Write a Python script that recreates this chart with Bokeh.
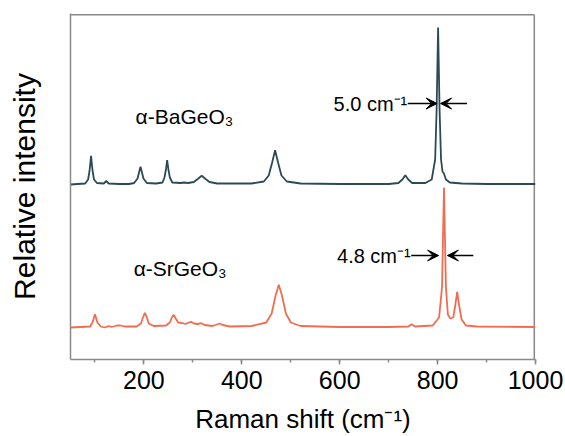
from bokeh.plotting import figure
from bokeh.models import Range1d, SingleIntervalTicker, FixedTicker, Label, Arrow, VeeHead
from bokeh.embed import file_html
from bokeh.resources import INLINE

# ---- data (Raman shift cm-1, relative intensity) ----
ba_shift = [50, 80, 86, 89, 92, 95, 98, 104, 118, 123, 128, 150, 170, 180, 187, 190, 193, 196, 199, 206,
            225, 238, 242, 245, 247.5, 250, 253, 258, 275, 282, 290, 302, 310, 318, 326, 334, 350, 420,
            445, 455, 462, 468, 474, 481, 492, 520, 600, 700, 720, 728, 734, 740, 748, 775, 788, 795,
            798, 801, 804, 807, 810, 813, 817, 825, 850, 900, 1000]
ba_int = [0, 1, 5, 14, 28.6, 14, 5, 1.5, 1, 3.5, 1, 0.5, 0.5, 1.5, 6, 12, 17.7, 12, 6, 1.5,
          1, 2, 7, 15, 24.3, 15, 7, 2, 1.5, 2, 1.5, 2.5, 5.5, 8.7, 5.5, 2.5, 1, 1,
          3, 9, 22, 34.3, 22, 9, 3, 1, 0.5, 0.5, 1.5, 5, 9.3, 5, 1.5, 1.5, 5, 25,
          75, 157, 75, 25, 13, 11, 5, 2, 1, 0.5, 0.5]

sr_shift = [50, 90, 95, 98, 100, 102, 105, 112, 120, 128, 134, 145, 152, 160, 185, 194, 198, 202, 206,
            210, 220, 245, 253, 257, 261, 265, 270, 278, 285, 292, 296.5, 302, 310, 317, 324, 340,
            349, 355, 361, 375, 420, 450, 461, 469, 475.5, 482, 490, 500, 520, 600, 700, 740, 747,
            754, 790, 803, 809, 811, 813, 815, 817, 821, 826, 832, 836, 840, 844, 849, 858, 880, 1000]
sr_int = [0, 1, 5, 10, 13.3, 10, 5, 1, 0, 1.5, 0.5, 2, 2, 1, 1, 4, 10, 14.7, 10,
          4, 1.5, 2, 5, 10, 12.7, 9, 5, 4.5, 3.5, 5, 5.7, 4, 3.5, 4.3, 2.5, 1.5,
          3, 4, 2.5, 1, 1.5, 5, 14, 32, 42.7, 32, 14, 5, 1.5, 0.5, 0.5, 1, 3.3,
          1, 2, 10, 40, 90, 140, 90, 40, 13, 9, 10, 22, 35.7, 22, 8, 2, 1, 0.5]

ba_offset = 175
sr_offset = 32

series_names = ["α-BaGeO₃", "α-SrGeO₃"]
fwhm_labels = ["5.0 cm⁻¹", "4.8 cm⁻¹"]
x_ticks_interval = 200
x_lo, x_hi = 50, 1000
y_lo, y_hi = 0, 346

BA_COLOR = "#2c4a56"
SR_COLOR = "#f26d50"
FONT = "Liberation Sans"
GREY = "#8a8a8a"

p = figure(width=565, height=436, output_backend="svg", toolbar_location=None,
           x_range=Range1d(x_lo, x_hi), y_range=Range1d(y_lo, y_hi),
           min_border_left=70, min_border_right=30, min_border_top=13, min_border_bottom=77)

# closed grey frame: top and right edges drawn along the range limits (inside so they are not clipped)
top_y = y_hi - 1.2
right_x = x_hi - 2.4
p.segment(x0=[x_lo, right_x], y0=[top_y, top_y], x1=[right_x, right_x], y1=[top_y, y_lo],
          line_color=GREY, line_width=1.6)

p.line(ba_shift, [v + ba_offset for v in ba_int], line_color=BA_COLOR, line_width=1.8)
p.line(sr_shift, [v + sr_offset for v in sr_int], line_color=SR_COLOR, line_width=1.8)

# series labels
p.add_layout(Label(x=183, y=243, text=series_names[0], text_font=FONT, text_font_size="21px",
                   text_baseline="middle", text_align="left", text_color="black"))
p.add_layout(Label(x=179, y=91, text=series_names[1], text_font=FONT, text_font_size="21px",
                   text_baseline="middle", text_align="left", text_color="black"))

# FWHM annotations
p.add_layout(Label(x=738, y=256, text=fwhm_labels[0], text_font=FONT, text_font_size="20px",
                   text_baseline="middle", text_align="right", text_color="black"))
p.add_layout(Label(x=745, y=104, text=fwhm_labels[1], text_font=FONT, text_font_size="20px",
                   text_baseline="middle", text_align="right", text_color="black"))

def arrow(x0, x1, y):
    p.add_layout(Arrow(x_start=x0, x_end=x1, y_start=y, y_end=y, line_width=1.5, line_color="black",
                       end=VeeHead(size=11, fill_color="black", line_color="black", line_width=1)))

arrow(739, 799, 256)
arrow(860, 806, 256)
arrow(746, 802, 104)
arrow(873, 820, 104)

# axes styling
p.xgrid.visible = False
p.ygrid.visible = False
p.outline_line_color = None

p.xaxis.ticker = SingleIntervalTicker(interval=x_ticks_interval, num_minor_ticks=2)
p.xaxis.axis_label = "Raman shift (cm⁻¹)"
p.xaxis.axis_label_text_font = FONT
p.xaxis.axis_label_text_font_size = "26px"
p.xaxis.axis_label_text_font_style = "normal"
p.xaxis.axis_label_text_color = "black"
p.xaxis.axis_label_standoff = 12
p.xaxis.major_label_text_font = FONT
p.xaxis.major_label_text_font_size = "25px"
p.xaxis.major_label_text_color = "black"
p.xaxis.major_label_standoff = 6
p.xaxis.axis_line_color = GREY
p.xaxis.axis_line_width = 1.5
p.xaxis.major_tick_line_color = GREY
p.xaxis.minor_tick_line_color = GREY
p.xaxis.major_tick_line_width = 1.5
p.xaxis.minor_tick_line_width = 1.5
p.xaxis.major_tick_in = 0
p.xaxis.major_tick_out = 5
p.xaxis.minor_tick_in = 0
p.xaxis.minor_tick_out = 3

p.yaxis.ticker = FixedTicker(ticks=[])
p.yaxis.axis_label = "Relative intensity"
p.yaxis.axis_label_text_font = FONT
p.yaxis.axis_label_text_font_size = "30px"
p.yaxis.axis_label_text_font_style = "normal"
p.yaxis.axis_label_text_color = "black"
p.yaxis.axis_label_standoff = 30
p.yaxis.axis_line_color = GREY
p.yaxis.axis_line_width = 1.5
p.yaxis.major_tick_line_color = None
p.yaxis.minor_tick_line_color = None

open("out.html", "w").write(file_html(p, INLINE))
